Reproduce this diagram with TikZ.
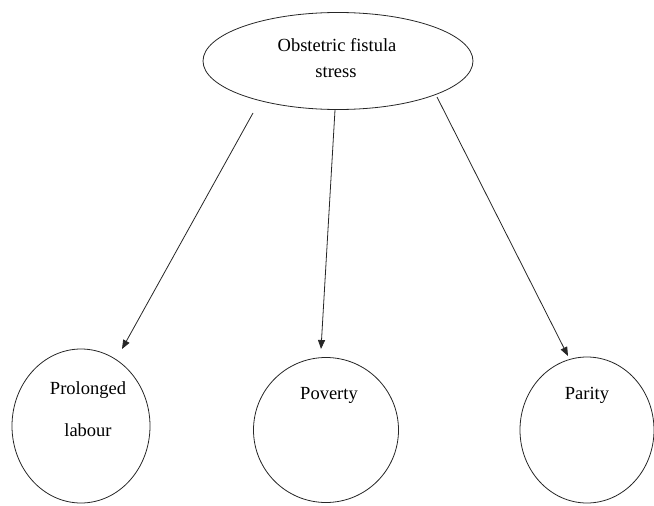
\documentclass[tikz,border=0pt]{standalone}
\usepackage{fontspec}
\setmainfont{Liberation Serif}
\usetikzlibrary{shapes.geometric,arrows.meta}
\begin{document}
\begin{tikzpicture}[x=1pt,y=-1pt,
  bubble/.style={draw=black!85,line width=0.8pt,ellipse,inner sep=0pt},
  lbl/.style={font=\fontsize{18.5}{22}\selectfont,inner sep=0pt,anchor=center},
  link/.style={draw=black!85,line width=0.8pt,-{Triangle[length=9pt,width=7pt]}}]
\useasboundingbox (0,0) rectangle (654,506);
% top ellipse
\node[bubble,minimum width=270pt,minimum height=97pt] (top) at (338,61) {};
\node[lbl] (t0a) at (337,45) {Obstetric fistula};
\node[lbl] (t0b) at (336,72) {stress};
% circles
\node[bubble,minimum width=138pt,minimum height=154pt] (c1) at (81,426) {};
\node[bubble,minimum width=145pt,minimum height=145pt] (c2) at (326,430) {};
\node[bubble,minimum width=134pt,minimum height=146pt] (c3) at (587,430) {};
\node[lbl] (t1a) at (88,390) {Prolonged};
\node[lbl] (t1b) at (88,430) {labour};
\node[lbl] (t2) at (329,395) {Poverty};
\node[lbl] (t3) at (587,395) {Parity};
% connector ends
\coordinate (s1) at (253,113);
\coordinate (e1) at (122,349);
\coordinate (s2) at (335,110);
\coordinate (e2) at (321,349);
\coordinate (s3) at (437,97);
\coordinate (e3) at (568,356);
\draw[link] (s1) -- (e1);
\draw[link] (s2) -- (e2);
\draw[link] (s3) -- (e3);
\end{tikzpicture}
\end{document}
